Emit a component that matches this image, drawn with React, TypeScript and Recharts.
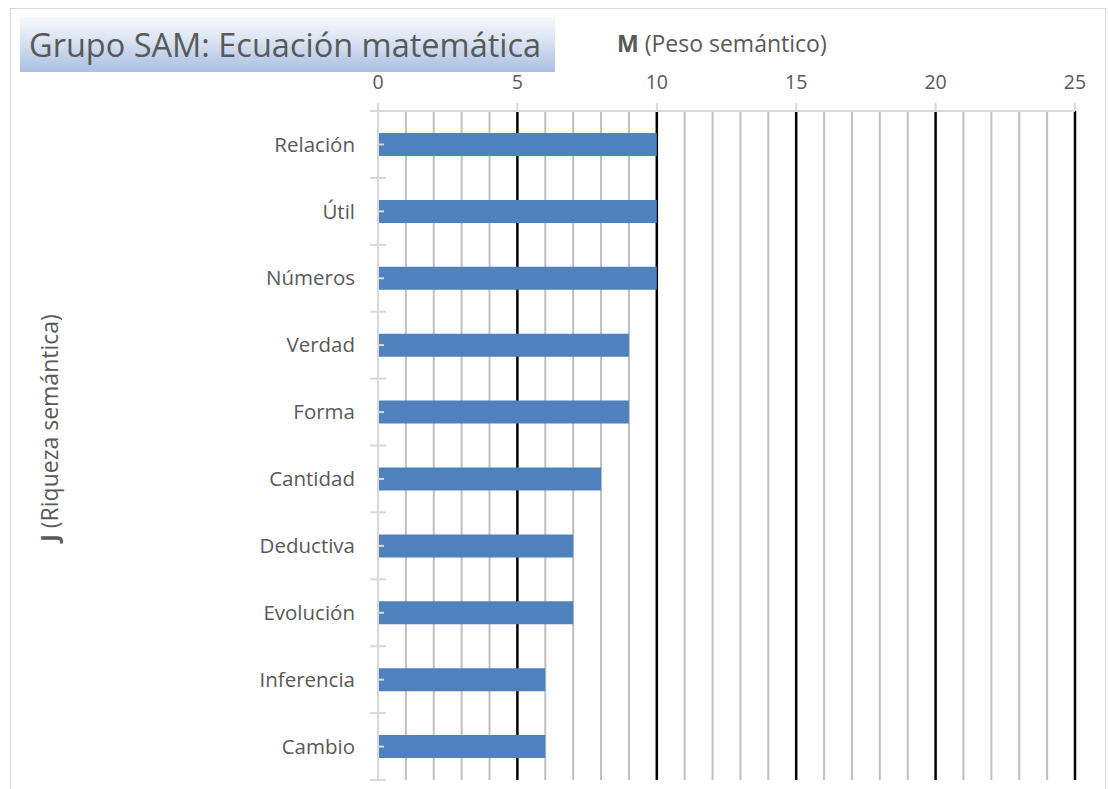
import React from "react";
import {
  BarChart,
  Bar,
  XAxis,
  YAxis,
  CartesianGrid,
  Label,
} from "recharts";

// categories (top to bottom) and their M values
const categories = [
  "Relación",
  "Útil",
  "Números",
  "Verdad",
  "Forma",
  "Cantidad",
  "Deductiva",
  "Evolución",
  "Inferencia",
  "Cambio",
];
const pesoValues = [10, 10, 10, 9, 9, 8, 7, 7, 6, 6];
const xTicks = [0, 5, 10, 15, 20, 25];
const minorGrid = [1, 2, 3, 4, 6, 7, 8, 9, 11, 12, 13, 14, 16, 17, 18, 19, 21, 22, 23, 24];
const majorGrid = [5, 10, 15, 20, 25];

const data = categories.map((name, i) => ({ name, value: pesoValues[i] }));

const FONT = "'Open Sans', 'Noto Sans', sans-serif";
const TEXT = "#595959";
const AXIS = "#d9d9d9";

const gridGen = (values: number[]) => (props: any) => {
  const { xAxis, offset } = props;
  if (xAxis && typeof xAxis.scale === "function") {
    return values.map((v) => xAxis.scale(v));
  }
  return values.map((v) => offset.left + (v / 25) * offset.width);
};

const CategoryTick = (props: any) => {
  const { x, y, payload, index } = props;
  const axisX = x + 23;
  const half = payload.offset || 0;
  return (
    <g>
      <line x1={axisX - 8} x2={axisX + 8} y1={y - half} y2={y - half} stroke={AXIS} strokeWidth={2} />
      {index === categories.length - 1 && (
        <line x1={axisX - 8} x2={axisX + 8} y1={y + half} y2={y + half} stroke={AXIS} strokeWidth={2} />
      )}
      <line x1={axisX} x2={axisX + 6} y1={y} y2={y} stroke={AXIS} strokeWidth={2} />
      <text x={x} y={y} dy="0.35em" textAnchor="end" fill={TEXT} fontSize={20.5} fontFamily={FONT}>
        {payload.value}
      </text>
    </g>
  );
};

export default function App() {
  return (
    <div style={{ position: "relative", width: 1108, height: 789, background: "#fff", overflow: "hidden" }}>
      <style>{`body{margin:0}`}</style>
      <div
        style={{
          position: "absolute",
          left: 10,
          top: 8,
          width: 1094,
          height: 820,
          border: `1px solid ${AXIS}`,
        }}
      />
      <BarChart
        width={1108}
        height={789}
        data={data}
        layout="vertical"
        margin={{ top: 0, right: 33, bottom: 9, left: 0 }}
        style={{ position: "absolute", left: 0, top: 0 }}
      >
        <CartesianGrid
          horizontal={false}
          stroke="#bfbfbf"
          strokeWidth={2}
          verticalCoordinatesGenerator={gridGen(minorGrid)}
        />
        <CartesianGrid
          horizontal={false}
          stroke="#000"
          strokeWidth={2.5}
          verticalCoordinatesGenerator={gridGen(majorGrid)}
        />
        <XAxis
          type="number"
          orientation="top"
          domain={[0, 25]}
          ticks={xTicks}
          interval={0}
          height={111}
          axisLine={{ stroke: AXIS, strokeWidth: 2 }}
          tickLine={{ stroke: AXIS, strokeWidth: 2 }}
          tickSize={8}
          tickMargin={14}
          tick={{ fill: TEXT, fontSize: 19.5, fontFamily: FONT }}
        >
          <Label
            content={() => (
              <text x={617} y={52} fill={TEXT} fontSize={23} fontFamily={FONT}>
                <tspan fontWeight="bold">M</tspan>
                <tspan> (Peso semántico)</tspan>
              </text>
            )}
          />
        </XAxis>
        <YAxis
          type="category"
          dataKey="name"
          width={378}
          axisLine={{ stroke: AXIS, strokeWidth: 2 }}
          tickLine={false}
          tickSize={0}
          tickMargin={23}
          interval={0}
          tick={<CategoryTick />}
        >
          <Label
            content={() => (
              <text
                x={58}
                y={428}
                transform="rotate(-90 58 428)"
                textAnchor="middle"
                fill={TEXT}
                fontSize={23}
                fontFamily={FONT}
              >
                <tspan fontWeight="bold">J</tspan>
                <tspan> (Riqueza semántica)</tspan>
              </text>
            )}
          />
        </YAxis>
        <Bar dataKey="value" fill="#4f81bd" barSize={23} isAnimationActive={false} />
      </BarChart>
      <div
        style={{
          position: "absolute",
          left: 20,
          top: 17,
          width: 535,
          height: 55,
          background: "linear-gradient(to bottom, #f7f9fd 0%, #dce5f3 40%, #a9bfe2 100%)",
          fontFamily: FONT,
          fontSize: 32.5,
          color: TEXT,
          lineHeight: "55px",
          paddingLeft: 9,
          boxSizing: "border-box",
          whiteSpace: "nowrap",
        }}
      >
        Grupo SAM: Ecuación matemática
      </div>
    </div>
  );
}
